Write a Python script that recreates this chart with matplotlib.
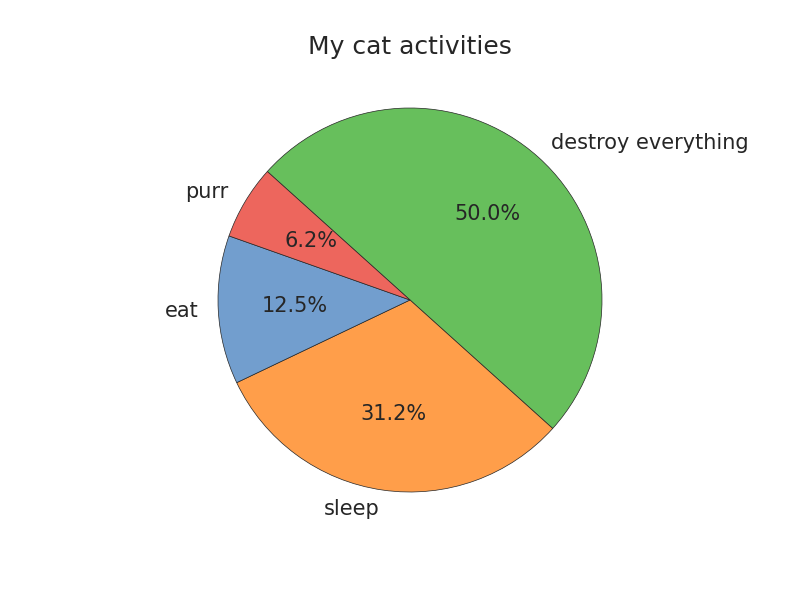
import matplotlib
matplotlib.use("Agg")
import matplotlib.pyplot as plt

labels = ["destroy everything", "sleep", "eat", "purr"]
values = [8, 5, 2, 1]
colors = ["#67bf5c", "#ff9e4a", "#729ece", "#ed665d"]

fig = plt.figure(figsize=(8, 6), dpi=100)
ax = fig.add_axes([0.125, 0.1, 0.775, 0.8])
wedges, texts, autotexts = ax.pie(
    values, labels=labels, colors=colors, autopct="%1.1f%%",
    startangle=138, counterclock=False,
    wedgeprops=dict(edgecolor="#262626", linewidth=0.5),
    textprops=dict(color="#262626", fontsize=15),
)
ax.set_aspect("equal")
ax.set_title("My cat activities", fontsize=18, color="#262626", pad=4)
fig.savefig("out.png", dpi=100)
